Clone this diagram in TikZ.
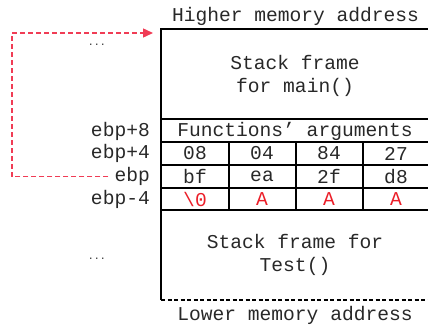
\documentclass[tikz,border=0pt]{standalone}
\usepackage{fontspec}
\setmonofont{Liberation Mono}
\usetikzlibrary{arrows.meta}
\definecolor{arrowred}{RGB}{240,60,85}
\definecolor{cellred}{RGB}{235,30,40}
\definecolor{txt}{RGB}{40,40,40}
\tikzset{
  mono/.style={font=\ttfamily\fontsize{19.6}{23}\selectfont, inner sep=0pt, text=txt},
  lbl/.style={mono, anchor=east},
  cell/.style={mono},
  redcell/.style={mono, text=cellred},
  frame/.style={line width=2.6pt},
  grid/.style={line width=2pt},
  link/.style={arrowred, line width=1.4pt, dash pattern=on 5pt off 3pt, -{Triangle[length=10pt,width=9pt]}},
}
\begin{document}
\begin{tikzpicture}[x=1pt,y=1pt]
\useasboundingbox (0,0) rectangle (428,325);
\clip (0,0) rectangle (428,325);
% frame
\draw[frame] (161,25) -- (161,296) -- (440,296);
\draw[line width=2pt, dash pattern=on 4pt off 2.5pt] (161,25) -- (440,25);
% horizontal grid lines
\draw[grid] (161,206) -- (440,206);
\draw[grid] (161,183) -- (440,183);
\draw[grid] (161,160) -- (440,160);
\draw[grid] (161,137) -- (440,137);
\draw[grid] (161,115) -- (440,115);
% vertical grid lines
\foreach \x in {228.7,295.5,362.5,429.5} \draw[grid] (\x,183) -- (\x,115);
% texts
\node[mono] (high) at (295.5,309) {Higher memory address};
\node[mono] (low) at (295,10) {Lower memory address};
\node[mono, align=center] (mainf) at (295,249.5) {Stack frame\\for main()};
\node[mono, align=center] (testf) at (295,70.5) {Stack frame for\\Test()};
\node[mono] (args) at (295,194) {Functions’ arguments};
% row labels
\node[lbl] (l8) at (150,194) {ebp+8};
\node[lbl] (l4) at (150,172) {ebp+4};
\node[lbl] (ebp) at (150,148.5) {ebp};
\node[lbl] (lm4) at (150,126) {ebp-4};
\node[mono, font=\ttfamily\fontsize{10}{12}\selectfont] (dots1) at (97,280) {...};
\node[mono, font=\ttfamily\fontsize{10}{12}\selectfont] (dots2) at (97,66) {...};
% cells
\node[cell] (c11) at (195,171.5) {08};
\node[cell] (c12) at (262,171.5) {04};
\node[cell] (c13) at (329,171.5) {84};
\node[cell] (c14) at (396,171.5) {27};
\node[cell] (c21) at (195,148.5) {bf};
\node[cell] (c22) at (262,148.5) {ea};
\node[cell] (c23) at (329,148.5) {2f};
\node[cell] (c24) at (396,148.5) {d8};
\node[redcell] (c31) at (195,126) {\textbackslash 0};
\node[redcell] (c32) at (262,126) {A};
\node[redcell] (c33) at (329,126) {A};
\node[redcell] (c34) at (396,126) {A};
% link
\coordinate (corner) at (12,292);
\coordinate (tip) at (153,292);
\draw[link] ([xshift=-6pt]ebp.west) -| (corner) -- (tip);
\end{tikzpicture}
\end{document}
